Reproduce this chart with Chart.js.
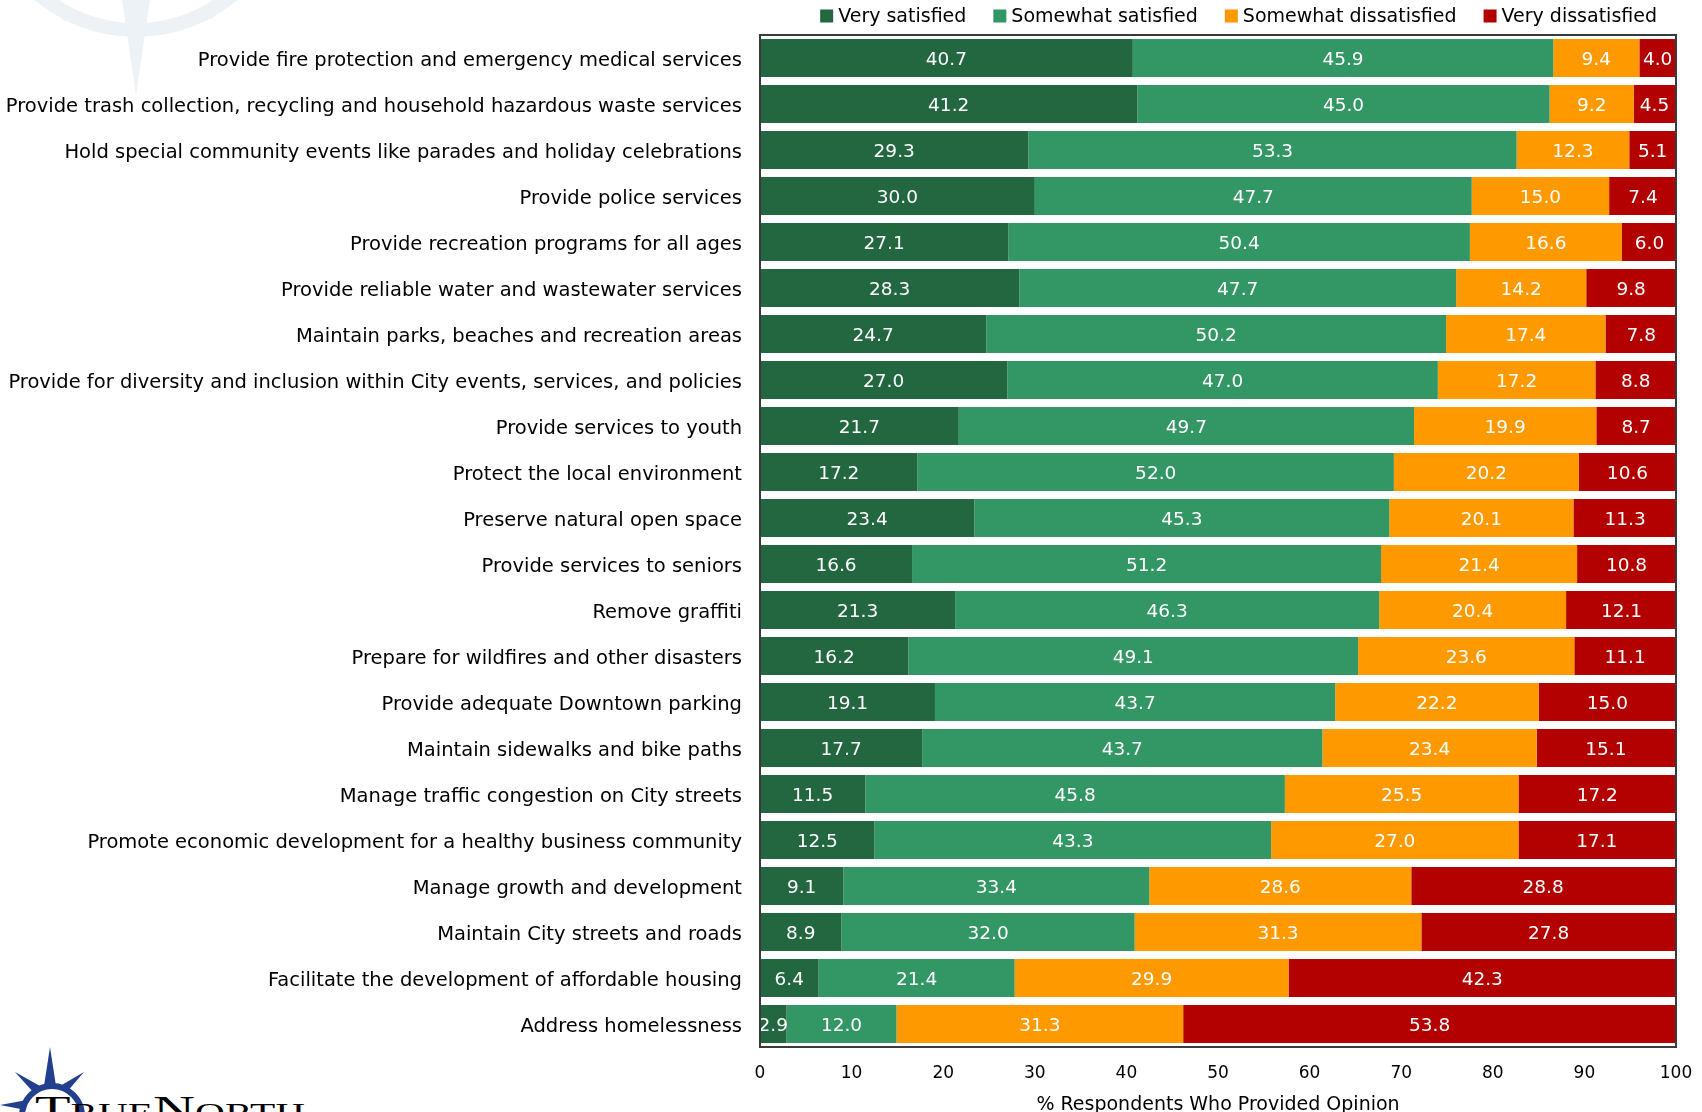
<!DOCTYPE html>
<html>
<head>
<meta charset="utf-8">
<script src="https://cdn.jsdelivr.net/npm/chart.js@4.4.1/dist/chart.umd.min.js"></script>
<style>
  html, body { margin: 0; padding: 0; background: #fff; }
  #wrap { position: relative; width: 1702px; height: 1112px; overflow: hidden; }
  #art, #chart { position: absolute; left: 0; top: 0; }
</style>
</head>
<body>
<div id="wrap">
  <svg id="art" width="1702" height="1112">
    <!-- faint compass watermark, top left -->
    <g fill="#edf2f6" stroke="none">
      <circle cx="136" cy="-120" r="150" fill="none" stroke="#edf2f6" stroke-width="14"/>
      <polygon points="122,0 150,0 136,95"/>
      <polygon points="40,0 60,0 66,22"/>
      <polygon points="232,0 212,0 210,20"/>
    </g>
    <!-- TrueNorth logo, bottom left -->
    <g fill="#23408e">
      <polygon points="50,1047 44,1086 56,1086"/>
      <polygon points="84,1072 60,1086 66,1093"/>
      <polygon points="15,1072 34,1093 40,1086"/>
      <polygon points="0,1105 27,1100 26,1110"/>
      <circle cx="52" cy="1116" r="30" fill="none" stroke="#23408e" stroke-width="6"/>
    </g>
    <text x="35" y="1122" textLength="270" lengthAdjust="spacingAndGlyphs"
          style="font-family:'Liberation Serif',serif;font-size:38px;font-variant:small-caps;fill:#000;">TrueNorth</text>
  </svg>
  <canvas id="chart" width="1702" height="1112"></canvas>
</div>
<script>
const categories = [
  'Provide fire protection and emergency medical services',
  'Provide trash collection, recycling and household hazardous waste services',
  'Hold special community events like parades and holiday celebrations',
  'Provide police services',
  'Provide recreation programs for all ages',
  'Provide reliable water and wastewater services',
  'Maintain parks, beaches and recreation areas',
  'Provide for diversity and inclusion within City events, services, and policies',
  'Provide services to youth',
  'Protect the local environment',
  'Preserve natural open space',
  'Provide services to seniors',
  'Remove graffiti',
  'Prepare for wildfires and other disasters',
  'Provide adequate Downtown parking',
  'Maintain sidewalks and bike paths',
  'Manage traffic congestion on City streets',
  'Promote economic development for a healthy business community',
  'Manage growth and development',
  'Maintain City streets and roads',
  'Facilitate the development of affordable housing',
  'Address homelessness'
];

const verySatisfied =        [40.7, 41.2, 29.3, 30.0, 27.1, 28.3, 24.7, 27.0, 21.7, 17.2, 23.4, 16.6, 21.3, 16.2, 19.1, 17.7, 11.5, 12.5,  9.1,  8.9,  6.4,  2.9];
const somewhatSatisfied =    [45.9, 45.0, 53.3, 47.7, 50.4, 47.7, 50.2, 47.0, 49.7, 52.0, 45.3, 51.2, 46.3, 49.1, 43.7, 43.7, 45.8, 43.3, 33.4, 32.0, 21.4, 12.0];
const somewhatDissatisfied = [ 9.4,  9.2, 12.3, 15.0, 16.6, 14.2, 17.4, 17.2, 19.9, 20.2, 20.1, 21.4, 20.4, 23.6, 22.2, 23.4, 25.5, 27.0, 28.6, 31.3, 29.9, 31.3];
const veryDissatisfied =     [ 4.0,  4.5,  5.1,  7.4,  6.0,  9.8,  7.8,  8.8,  8.7, 10.6, 11.3, 10.8, 12.1, 11.1, 15.0, 15.1, 17.2, 17.1, 28.8, 27.8, 42.3, 53.8];

const seriesNames = ['Very satisfied', 'Somewhat satisfied', 'Somewhat dissatisfied', 'Very dissatisfied'];
const xAxisTitle = '% Respondents Who Provided Opinion';

const FONT = "'DejaVu Sans', sans-serif";

// white value labels centred in each segment
const barLabels = {
  id: 'barLabels',
  afterDatasetsDraw(chart) {
    const ctx = chart.ctx;
    ctx.save();
    ctx.font = '18.5px ' + FONT;
    ctx.fillStyle = '#ffffff';
    ctx.textAlign = 'center';
    ctx.textBaseline = 'middle';
    chart.data.datasets.forEach((ds, i) => {
      chart.getDatasetMeta(i).data.forEach((bar, j) => {
        const p = bar.getProps(['x', 'y', 'base'], true);
        ctx.fillText(ds.data[j].toFixed(1), (p.x + p.base) / 2, p.y + 2.5);
      });
    });
    ctx.restore();
  }
};

// frame round the plot area
const plotFrame = {
  id: 'plotFrame',
  afterDatasetsDraw(chart) {
    const a = chart.chartArea;
    const ctx = chart.ctx;
    ctx.save();
    ctx.strokeStyle = '#3a3a3a';
    ctx.lineWidth = 2;
    ctx.strokeRect(a.left, a.top, a.right - a.left, a.bottom - a.top);
    ctx.restore();
  }
};

// legend row above the plot, right aligned
const topLegend = {
  id: 'topLegend',
  afterDraw(chart) {
    const ctx = chart.ctx;
    ctx.save();
    ctx.font = '19px ' + FONT;
    ctx.textBaseline = 'middle';
    const box = 13, gap = 5, spacing = 27, y = 16;
    const items = chart.data.datasets.map(ds => ({ text: ds.label, color: ds.backgroundColor, w: ctx.measureText(ds.label).width }));
    let total = 0;
    items.forEach((it, i) => { total += box + gap + it.w + (i ? spacing : 0); });
    let x = 1657 - total;
    items.forEach(it => {
      ctx.fillStyle = it.color;
      ctx.fillRect(x, y - box / 2, box, box);
      x += box + gap;
      ctx.fillStyle = '#000';
      ctx.textAlign = 'left';
      ctx.fillText(it.text, x, y + 1);
      x += it.w + spacing;
    });
    ctx.restore();
  }
};

new Chart(document.getElementById('chart'), {
  type: 'bar',
  data: {
    labels: categories,
    datasets: [
      { label: seriesNames[0], data: verySatisfied, backgroundColor: '#236741' },
      { label: seriesNames[1], data: somewhatSatisfied, backgroundColor: '#339665' },
      { label: seriesNames[2], data: somewhatDissatisfied, backgroundColor: '#ff9900' },
      { label: seriesNames[3], data: veryDissatisfied, backgroundColor: '#b30000' }
    ]
  },
  options: {
    indexAxis: 'y',
    responsive: false,
    animation: false,
    datasets: {
      bar: { barPercentage: 0.83, categoryPercentage: 1, borderWidth: 0 }
    },
    layout: { padding: { top: 35, right: 26, bottom: 0, left: 0 } },
    scales: {
      x: {
        stacked: true,
        min: 0,
        max: 100,
        ticks: { stepSize: 10, padding: 16, color: '#000', font: { family: FONT, size: 17 } },
        grid: { display: false, drawTicks: false },
        border: { display: false },
        title: {
          display: true,
          text: xAxisTitle,
          color: '#000',
          font: { family: FONT, size: 19, lineHeight: 0.75 },
          padding: { top: 0, bottom: 0 }
        },
        afterFit(scale) {
          scale.height = 65;
          scale.paddingLeft = 0;
          scale.paddingRight = 0;
        }
      },
      y: {
        stacked: true,
        ticks: { padding: 18, labelOffset: 2.5, color: '#000', font: { family: FONT, size: 19.5 } },
        grid: { display: false, drawTicks: false },
        border: { display: false },
        afterFit(scale) { scale.width = 760; }
      }
    },
    plugins: {
      legend: { display: false },
      tooltip: { enabled: false }
    }
  },
  plugins: [barLabels, plotFrame, topLegend]
});
</script>
</body>
</html>
